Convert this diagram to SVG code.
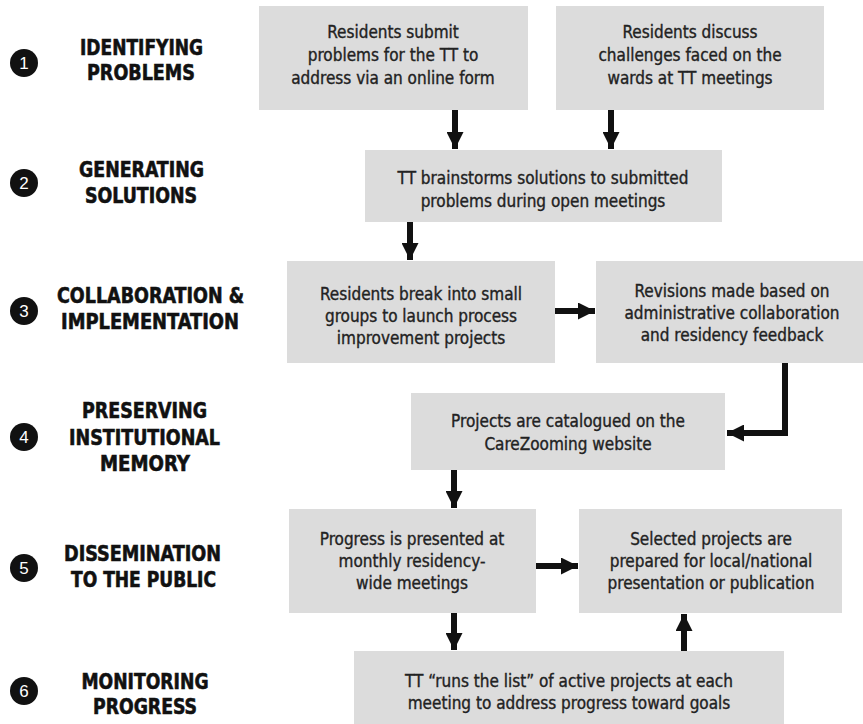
<svg xmlns="http://www.w3.org/2000/svg" width="863" height="724" viewBox="0 0 863 724">
<style>
.box{fill:#dcdcdc}
.bt{font-family:"DejaVu Sans Condensed","Liberation Sans Narrow","Liberation Sans",sans-serif;font-stretch:condensed;font-size:17px;fill:#222;stroke:#222;stroke-width:0.35;text-anchor:middle}
.lt{font-family:"DejaVu Sans Condensed","Liberation Sans",sans-serif;font-stretch:condensed;font-size:22px;font-weight:bold;fill:#111;stroke:#111;stroke-width:0.6;text-anchor:middle}
.num{font-family:"Liberation Sans",sans-serif;font-size:17px;fill:#fff;text-anchor:middle}
.c{fill:#111}
.con{fill:none;stroke:#111;stroke-width:6;marker-end:url(#ah)}
</style>
<defs>
<marker id="ah" viewBox="0 0 17 17" refX="17" refY="8.5" markerWidth="17" markerHeight="17" markerUnits="userSpaceOnUse" orient="auto">
<path d="M0,0 L17,8.5 L0,17 z" fill="#111"/>
</marker>
</defs>
<rect width="863" height="724" fill="#fff"/>

<g id="label1"><circle class="c" cx="24" cy="63" r="14"/><text class="num" x="24" y="69">1</text><text class="lt" x="141.5" y="55" textLength="123" lengthAdjust="spacingAndGlyphs">IDENTIFYING</text><text class="lt" x="141" y="80" textLength="108" lengthAdjust="spacingAndGlyphs">PROBLEMS</text></g>
<g id="label2"><circle class="c" cx="24" cy="183" r="14"/><text class="num" x="24" y="189">2</text><text class="lt" x="141.5" y="177" textLength="125" lengthAdjust="spacingAndGlyphs">GENERATING</text><text class="lt" x="141" y="203" textLength="112" lengthAdjust="spacingAndGlyphs">SOLUTIONS</text></g>
<g id="label3"><circle class="c" cx="24" cy="311" r="14"/><text class="num" x="24" y="317">3</text><text class="lt" x="150.5" y="303" textLength="187" lengthAdjust="spacingAndGlyphs">COLLABORATION &amp;</text><text class="lt" x="150" y="329" textLength="178" lengthAdjust="spacingAndGlyphs">IMPLEMENTATION</text></g>
<g id="label4"><circle class="c" cx="24" cy="437" r="14"/><text class="num" x="24" y="443">4</text><text class="lt" x="144.5" y="418" textLength="125" lengthAdjust="spacingAndGlyphs">PRESERVING</text><text class="lt" x="144.5" y="445" textLength="151" lengthAdjust="spacingAndGlyphs">INSTITUTIONAL</text><text class="lt" x="145" y="471" textLength="90" lengthAdjust="spacingAndGlyphs">MEMORY</text></g>
<g id="label5"><circle class="c" cx="24" cy="568" r="14"/><text class="num" x="24" y="574">5</text><text class="lt" x="142.5" y="561" textLength="157" lengthAdjust="spacingAndGlyphs">DISSEMINATION</text><text class="lt" x="143.5" y="587" textLength="145" lengthAdjust="spacingAndGlyphs">TO THE PUBLIC</text></g>
<g id="label6"><circle class="c" cx="24" cy="691" r="14"/><text class="num" x="24" y="697">6</text><text class="lt" x="145" y="689" textLength="127" lengthAdjust="spacingAndGlyphs">MONITORING</text><text class="lt" x="145" y="714" textLength="104" lengthAdjust="spacingAndGlyphs">PROGRESS</text></g>

<g id="nodeA"><rect class="box" x="259" y="6" width="269" height="104"/><text class="bt" x="393" y="38">Residents submit</text><text class="bt" x="393" y="61">problems for the TT to</text><text class="bt" x="393" y="84">address via an online form</text></g>
<g id="nodeB"><rect class="box" x="556" y="6" width="268" height="104"/><text class="bt" x="690" y="38">Residents discuss</text><text class="bt" x="690" y="61">challenges faced on the</text><text class="bt" x="690" y="84">wards at TT meetings</text></g>
<g id="nodeC"><rect class="box" x="365" y="150" width="357" height="72"/><text class="bt" x="543" y="184">TT brainstorms solutions to submitted</text><text class="bt" x="543" y="207">problems during open meetings</text></g>
<g id="nodeD"><rect class="box" x="287" y="261" width="268" height="102"/><text class="bt" x="421" y="300">Residents break into small</text><text class="bt" x="421" y="322">groups to launch process</text><text class="bt" x="421" y="344">improvement projects</text></g>
<g id="nodeE"><rect class="box" x="596" y="261" width="267" height="102"/><text class="bt" x="732" y="297">Revisions made based on</text><text class="bt" x="732" y="319">administrative collaboration</text><text class="bt" x="732" y="341">and residency feedback</text></g>
<g id="nodeF"><rect class="box" x="411" y="393" width="314" height="77"/><text class="bt" x="568" y="427">Projects are catalogued on the</text><text class="bt" x="568" y="450">CareZooming website</text></g>
<g id="nodeG"><rect class="box" x="289" y="509" width="247" height="104"/><text class="bt" x="412" y="545">Progress is presented at</text><text class="bt" x="412" y="567">monthly residency-</text><text class="bt" x="412" y="589">wide meetings</text></g>
<g id="nodeH"><rect class="box" x="579" y="509" width="263" height="104"/><text class="bt" x="711" y="545">Selected projects are</text><text class="bt" x="711" y="567">prepared for local/national</text><text class="bt" x="711" y="589">presentation or publication</text></g>
<g id="nodeI"><rect class="box" x="354" y="651" width="430" height="73"/><text class="bt" x="569" y="687">TT “runs the list” of active projects at each</text><text class="bt" x="569" y="709">meeting to address progress toward goals</text></g>

<g id="connectors">
<path class="con" d="M455,110 V149"/>
<path class="con" d="M611,110 V149"/>
<path class="con" d="M410,222 V260"/>
<path class="con" d="M555,311 H595"/>
<path class="con" d="M785,363 V433 H727"/>
<path class="con" d="M454,470 V508"/>
<path class="con" d="M536,566 H578"/>
<path class="con" d="M454,613 V650"/>
<path class="con" d="M684,651 V614"/>
</g>
</svg>
